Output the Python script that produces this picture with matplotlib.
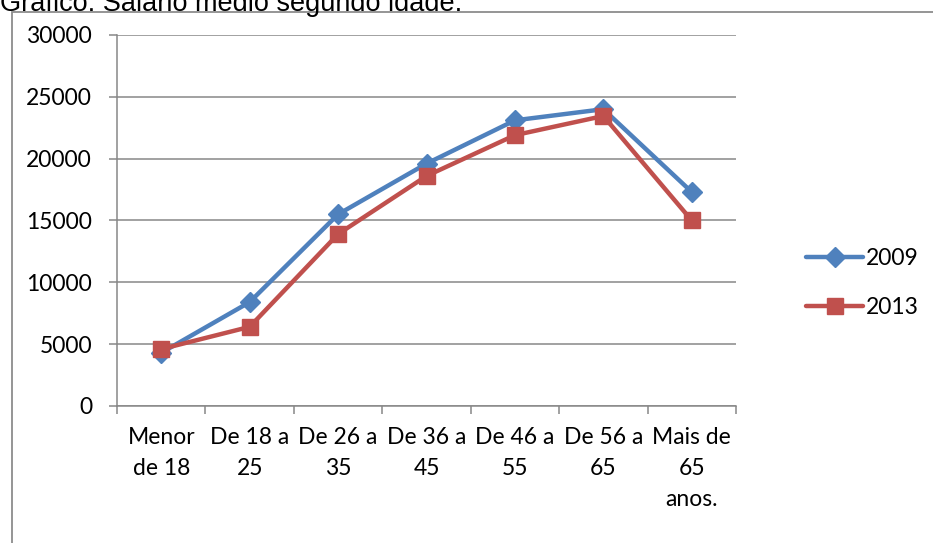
import matplotlib.pyplot as plt
from matplotlib.patches import Rectangle

# datos del gráfico
faixas = ["Menor\nde 18", "De 18 a\n25", "De 26 a\n35", "De 36 a\n45",
          "De 46 a\n55", "De 56 a\n65", "Mais de\n65\nanos."]
salario_2009 = [4300, 8400, 15500, 19600, 23100, 24000, 17300]
salario_2013 = [4600, 6400, 13900, 18600, 21900, 23450, 15000]
anos = ["2009", "2013"]

plt.rcParams["font.family"] = ["Lato", "DejaVu Sans"]
cinza = "#878787"

fig = plt.figure(figsize=(9.33, 5.43), dpi=100)
ax = fig.add_axes([117 / 933, 1 - 406 / 543, (736 - 117) / 933, (406 - 35) / 543])

x = list(range(len(faixas)))
ax.plot(x, salario_2009, color="#4F81BD", lw=3.2, marker="D", ms=10,
        label=anos[0], solid_joinstyle="round", solid_capstyle="round")
ax.plot(x, salario_2013, color="#C0504D", lw=3.2, marker="s", ms=12,
        label=anos[1], solid_joinstyle="round", solid_capstyle="round")

ax.set_ylim(0, 30000)
ax.set_xlim(-0.5, len(faixas) - 0.5)
ax.set_yticks(range(0, 30001, 5000))
ax.grid(axis="y", color=cinza, lw=1.1)
ax.set_axisbelow(True)

# ticks entre categorias, rótulos no centro
ax.set_xticks([i - 0.5 for i in range(len(faixas) + 1)])
ax.set_xticklabels([])
ax.set_xticks(x, minor=True)
ax.set_xticklabels(faixas, minor=True, fontsize=16.5, linespacing=1.6)
ax.tick_params(axis="x", which="major", length=6, color=cinza, width=1.1)
ax.tick_params(axis="x", which="minor", length=0, pad=15)
ax.tick_params(axis="y", length=6, color=cinza, width=1.1, labelsize=16.5, pad=12)

for s in ["top", "right"]:
    ax.spines[s].set_visible(False)
for s in ["left", "bottom"]:
    ax.spines[s].set_color(cinza)
    ax.spines[s].set_linewidth(1.1)

fig.legend(loc="center left", bbox_to_anchor=(806 / 933, 1 - 283 / 543),
           frameon=False, fontsize=16.5, handlelength=2.5, handletextpad=0.1,
           labelspacing=1.2, borderpad=0, borderaxespad=0)

# moldura e título (cortado no topo, como no original)
fig.patches.append(Rectangle((12 / 933, -0.1), 1.0, 1 - 12 / 543 + 0.1,
                             transform=fig.transFigure, fill=False,
                             edgecolor="#8c8c8c", lw=1.3))
fig.text(0.0, 1 - 11 / 543, "Gráfico: Salario medio segundo idade.",
         family="Liberation Sans", fontsize=19.5, va="baseline", ha="left")

fig.savefig("out.png", dpi=100)
